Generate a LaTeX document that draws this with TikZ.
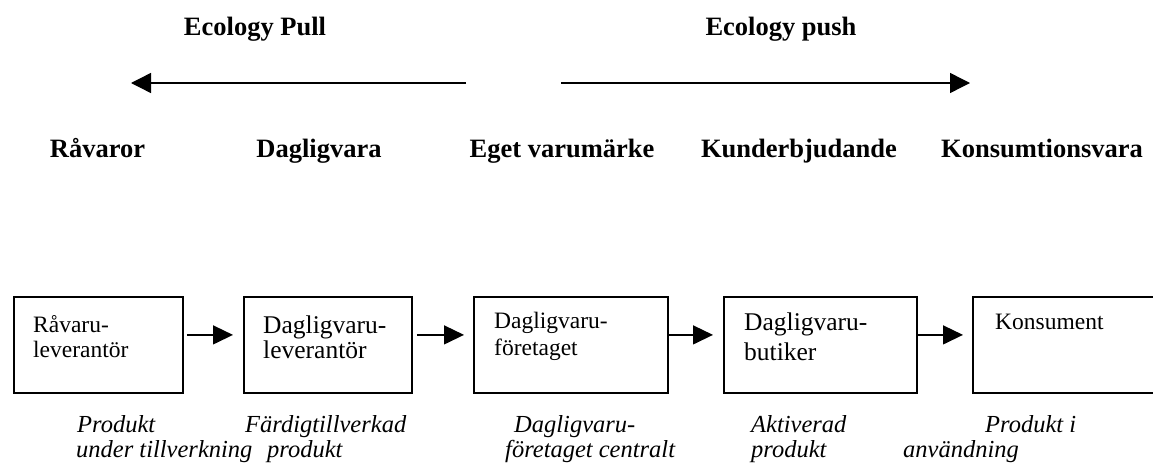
\documentclass[tikz,border=0pt]{standalone}
\usepackage{fontspec}
\setmainfont{Liberation Serif}
\usetikzlibrary{arrows.meta}
\begin{document}
\begin{tikzpicture}[x=1pt,y=-1pt,
  head/.style={font=\fontsize{26.5}{30}\selectfont\bfseries, anchor=base, inner sep=0},
  bigarrow/.style={line width=1.4pt, -{Triangle[length=20pt,width=20pt]}},
  boxnode/.style={draw, line width=1.8pt, minimum height=96pt, inner sep=0, anchor=north west},
  smalltxt/.style={font=\fontsize{23.5}{27}\selectfont, anchor=base west, inner sep=0},
  bigtxt/.style={font=\fontsize{25.5}{29}\selectfont, anchor=base west, inner sep=0},
  lbl/.style={font=\fontsize{24.5}{28}\selectfont\itshape, anchor=base west, inner sep=0},
  flow/.style={line width=1.4pt, -{Triangle[length=20pt,width=19pt]}}]
\fill[white] (0,0) rectangle (1153,463);
\clip (0,0) rectangle (1153,463);
\useasboundingbox (0,0) rectangle (1153,463);

% headers
\node[head] (pull) at (255,35) {Ecology Pull};
\node[head] (push) at (781,35) {Ecology push};
\coordinate (pullstart) at (466,83);
\coordinate (pullend) at (131,83);
\coordinate (pushstart) at (561,83);
\coordinate (pushend) at (970,83);
\draw[bigarrow] (pullstart) -- (pullend);
\draw[bigarrow] (pushstart) -- (pushend);

% categories
\node[head] (c1) at (97.5,157) {Råvaror};
\node[head] (c2) at (319,157) {Dagligvara};
\node[head] (c3) at (562,157) {Eget varumärke};
\node[head] (c4) at (799,157) {Kunderbjudande};
\node[head] (c5) at (1042,157) {Konsumtionsvara};

% boxes
\node[boxnode, minimum width=169pt] (b1) at (13,296) {};
\node[boxnode, minimum width=168pt] (b2) at (243,296) {};
\node[boxnode, minimum width=194pt] (b3) at (473,296) {};
\node[boxnode, minimum width=193pt] (b4) at (723,296) {};
\node[boxnode, minimum width=200pt] (b5) at (972,296) {};

% box texts
\node[smalltxt] (b1l1) at (33,332) {Råvaru-};
\node[smalltxt] (b1l2) at (33,357) {leverantör};
\node[bigtxt] (b2l1) at (263,333) {Dagligvaru-};
\node[bigtxt] (b2l2) at (263,358) {leverantör};
\node[smalltxt] (b3l1) at (494,328) {Dagligvaru-};
\node[smalltxt] (b3l2) at (494,355) {företaget};
\node[bigtxt] (b4l1) at (744,330) {Dagligvaru-};
\node[bigtxt] (b4l2) at (744,360) {butiker};
\node[smalltxt] (b5l1) at (995,329) {Konsument};

% flow arrows
\draw[flow] ([yshift=10pt,xshift=3pt]b1.east) -- ([yshift=10pt,xshift=-10pt]b2.west);
\draw[flow] ([yshift=10pt,xshift=4pt]b2.east) -- ([yshift=10pt,xshift=-9pt]b3.west);
\draw[flow] ([yshift=10pt]b3.east) -- ([yshift=10pt,xshift=-10pt]b4.west);
\draw[flow] ([yshift=10pt]b4.east) -- ([yshift=10pt,xshift=-9pt]b5.west);

% italic labels
\node[lbl] (p1a) at (77,432) {Produkt};
\node[lbl] (p1b) at (76,457) {under tillverkning};
\node[lbl] (p2a) at (245,432) {Färdigtillverkad};
\node[lbl] (p2b) at (267,457) {produkt};
\node[lbl] (p3a) at (514,432) {Dagligvaru-};
\node[lbl] (p3b) at (505,457) {företaget centralt};
\node[lbl] (p4a) at (751,432) {Aktiverad};
\node[lbl] (p4b) at (751,457) {produkt};
\node[lbl] (p5a) at (985,432) {Produkt i};
\node[lbl] (p5b) at (903,457) {användning};
\end{tikzpicture}
\end{document}
